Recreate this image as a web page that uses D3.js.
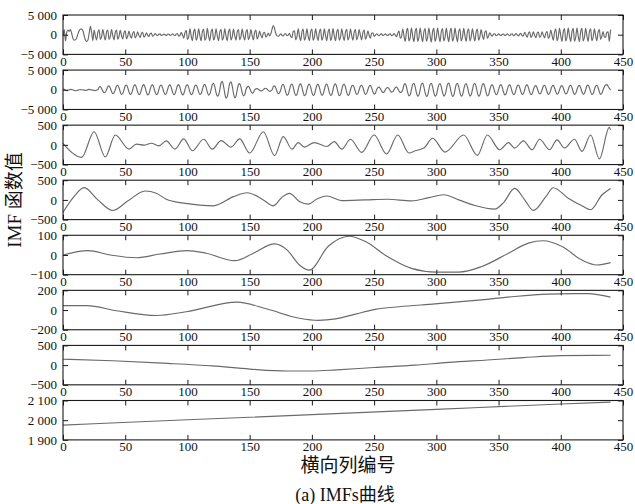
<!DOCTYPE html>
<html><head><meta charset="utf-8">
<script src="https://cdn.jsdelivr.net/npm/d3@7"></script>
<style>body{margin:0;background:#fff}svg{display:block}</style>
</head><body>
<svg id="chart" width="635" height="504"></svg>
<script>
// ---------- data ----------
const xTickValues = [0, 50, 100, 150, 200, 250, 300, 350, 400, 450];

const imf1Values = [
-300,1300,-1600,600,1200,900,1300,300,-900,-1400,
-1300,-800,200,1000,1400,1400,1000,-200,-1300,-1700,
-1400,300,2100,600,-1500,1200,-300,-1300,600,1250,
-1200,-500,1300,-200,-1350,700,1200,-1200,-500,1300,
-250,-1300,600,1150,-1150,-450,1100,-200,-1100,500,
1000,-1000,-400,900,-200,-900,400,800,-800,-300,
700,-150,-700,300,600,-600,-250,500,-100,-500,
250,400,-350,-150,300,-50,-250,100,200,-200,
-80,180,-40,-200,100,180,-180,-80,200,-50,
-250,150,300,-350,-200,600,-100,-900,500,1100,
-1200,-600,1500,-300,-1500,750,1400,-1400,-600,1500,
-300,-1550,800,1450,-1400,-650,1600,-350,-1500,750,
1400,-1350,-600,1500,-300,-1500,700,1350,-1400,-600,
1500,-300,-1500,750,1400,-1350,-550,1400,-250,-1400,
700,1300,-1300,-500,1400,-300,-1350,650,1300,-1250,
-500,1300,-250,-1300,600,1200,-1100,-400,900,-150,
-800,400,600,-600,-200,400,-300,200,1400,2300,
1600,300,-300,-400,-100,250,-200,-300,150,250,
-250,-100,350,-500,-700,900,1000,-1300,-500,1500,
-300,-1500,700,1400,-1400,-600,1500,-300,-1500,750,
1450,-1400,-600,1500,-300,-1500,700,1400,-1400,-550,
1500,-250,-1500,750,1400,-1450,-600,1550,-300,-1500,
700,1350,-1400,-600,1500,-300,-1450,700,1350,-1350,
-500,1400,-250,-1400,650,1300,-1300,-500,1300,-200,
-1300,600,1200,-1150,-450,1000,-150,-900,400,500,
-400,-150,250,-50,-250,100,200,-200,-80,200,
-50,-200,100,220,-220,-100,300,-100,-500,400,
900,-900,-500,1400,-300,-1700,800,1600,-1600,-700,
1700,-350,-1800,850,1600,-1700,-700,1700,-300,-1800,
800,1550,-1650,-700,1700,-350,-1850,850,1600,-1700,
-650,1650,-300,-1750,800,1550,-1600,-700,1700,-350,
-1800,850,1600,-1650,-700,1650,-300,-1750,800,1500,
-1600,-650,1600,-300,-1700,800,1500,-1550,-600,1500,
-250,-1600,700,1400,-1400,-500,1300,-200,-1200,600,
1000,-900,-300,500,-100,-350,150,250,-250,-100,
200,-50,-200,100,180,-180,-60,200,-50,-250,
100,250,-250,-100,300,-50,-300,150,350,-350,
-200,600,-100,-650,350,700,-700,-250,700,-150,
-750,350,650,-700,-300,750,-150,-800,400,800,
-900,-400,1200,-200,-1400,700,1500,-1500,-600,1600,
-300,-1700,800,1550,-1600,-650,1650,-300,-1700,800,
1600,-1650,-700,1700,-350,-1750,850,1600,-1600,-650,
1600,-300,-1700,800,1500,-1500,-600,1500,-250,-1500,
700,1300,-1200,-400,800,-500,-700,600,700,-1700,
1300
];

const imf2Values = [
200,150,-100,-200,-150,0,100, 50,-50,-150,-250,-200,-100,0,
50,0,-50,-100,-150,-100,0, 100,50,-50,-100,-150,-200,-100,
0,620,780,340,-340,-780,-620,
0,780,970,430,-430,-970,-780,
0,940,1160,520,-520,-1160,-940,
0,980,1210,540,-540,-1210,-980,
0,1010,1260,560,-560,-1260,-1010,
0,1050,1310,580,-580,-1310,-1050,
0,1010,1260,560,-560,-1260,-1010,
0,980,1210,540,-540,-1210,-980,
0,1010,1260,560,-560,-1260,-1010,
0,1050,1310,580,-580,-1310,-1050,
0,1010,1260,560,-560,-1260,-1010,
0,980,1210,540,-540,-1210,-980,
0,1090,1360,600,-600,-1360,-1090,
0,1330,1650,730,-730,-1650,-1330,
0,1720,2130,950,-950,-2130,-1720,
0,1640,2040,900,-900,-2040,-1640,
0,1250,1550,690,-690,-1550,-1250,
0,700,870,390,-390,-870,-700,
0,230,290,130,-130,-290,-230,
0,310,390,170,-170,-390,-310,
0,780,970,430,-430,-970,-780,
0,1130,1410,620,-620,-1410,-1130,
0,1170,1460,650,-650,-1460,-1170,
0,1210,1500,670,-670,-1500,-1210,
0,1170,1460,650,-650,-1460,-1170,
0,1130,1410,620,-620,-1410,-1130,
0,1170,1460,650,-650,-1460,-1170,
0,1210,1500,670,-670,-1500,-1210,
0,1170,1460,650,-650,-1460,-1170,
0,940,1160,520,-520,-1160,-940,
0,940,1160,520,-520,-1160,-940,
0,900,1120,490,-490,-1120,-900,
0,550,680,300,-300,-680,-550,
0,470,580,260,-260,-580,-470,
0,550,680,300,-300,-680,-550,
0,1250,1550,690,-690,-1550,-1250,
0,1330,1650,730,-730,-1650,-1330,
0,1370,1700,750,-750,-1700,-1370,
0,1330,1650,730,-730,-1650,-1330,
0,1290,1600,710,-710,-1600,-1290,
0,1370,1700,750,-750,-1700,-1370,
0,1330,1650,730,-730,-1650,-1330,
0,1290,1600,710,-710,-1600,-1290,
0,1330,1650,730,-730,-1650,-1330,
0,1250,1550,690,-690,-1550,-1250,
0,1010,1260,560,-560,-1260,-1010,
0,1050,1310,580,-580,-1310,-1050,
0,1010,1260,560,-560,-1260,-1010,
0,980,1210,540,-540,-1210,-980,
0,1010,1260,560,-560,-1260,-1010,
0,860,1070,470,-470,-1070,-860,
0,940,1160,520,-520,-1160,-940,
0,900,1120,490,-490,-1120,-900,
0,860,1070,470,-470,-1070,-860,
0,940,1160,520,-520,-1160,-940,
0,900,1120,490,-490,-1120,-900,
0,980,1210,540,-540,-1210,-980,
0,940,1160,520,-520,-1160,-940,
0,700,1200,1300,900,400,0
];

const imf3X = [0,15,25,34,42,53,59,65,71,77,83,90,97,104,113,120,127,135,142,150,161,170,177,184,189,194,202,212,218,224,231,240,250,260,269,278,283,290,297,307,322,333,341,351,358,363,370,377,383,391,397,403,411,417,424,431,439,440];
const imf3Y = [40,-317,333,-308,250,-108,17,-8,40,-25,100,-108,150,-150,142,-108,108,-58,150,-208,333,-275,208,-108,58,-58,58,-42,83,-108,142,-192,250,-233,250,-208,-150,-83,167,-183,250,-267,250,-125,58,-83,100,-125,142,-125,125,-83,142,-167,250,-358,442,380];

const imf4X = [0,8,17,28,40,52,66,75,83,97,110,121,137,148,161,169,176,182,190,197,204,212,224,243,261,280,294,306,318,331,347,354,363,371,378,388,394,406,417,424,433,440];
const imf4Y = [-317,50,310,0,-270,-30,225,167,17,-83,-133,-150,83,183,0,-150,67,167,-42,-108,25,100,-17,0,17,-25,58,130,0,-142,-233,-67,292,0,-267,83,308,42,-150,-250,125,292];

const imf5X = [0,20,38,59,78,100,115,138,153,170,180,190,198,213,230,243,261,280,300,318,336,358,374,386,401,417,429,440];
const imf5Y = [0,22,0,-14,5,22,9,-29,9,56,26,-51,-77,43,95,68,-9,-68,-87,-87,-60,9,60,72,43,-26,-51,-39];

const imf6X = [0,19,43,75,99,140,164,190,205,219,235,251,270,299,336,363,390,410,422,440];
const imf6Y = [45,45,-7,-55,-17,80,10,-83,-105,-90,-41,7,34,62,103,138,162,167,166,131];

const imf7X = [0,40,80,120,150,180,200,220,250,283,310,341,370,400,440];
const imf7Y = [150,110,50,-20,-100,-150,-150,-120,-60,0,70,130,190,240,250];

const imf8X = [0,100,200,300,400,440];
const imf8Y = [1975,2002,2028,2055,2082,2092];

const yTickValues = [
  [-5000, 0, 5000], [-5000, 0, 5000], [-500, 0, 500], [-500, 0, 500],
  [-100, 0, 100], [-200, 0, 200], [-500, 0, 500], [1900, 2000, 2100]
];
const yTickLabels = [
  ["−5 000", "0", "5 000"], ["−5 000", "0", "5 000"], ["−500", "0", "500"], ["−500", "0", "500"],
  ["−100", "0", "100"], ["−200", "0", "200"], ["−500", "0", "500"], ["1 900", "2 000", "2 100"]
];
const yAxisTitle = "IMF 函数值";
const xAxisTitle = "横向列编号";
const caption = "(a) IMFs曲线";

// ---------- build ----------
const seriesList = [
  imf1Values.map((v, i) => [i, v]),
  imf2Values.map((v, i) => [i, v]),
  imf3X.map((x, i) => [x, imf3Y[i]]),
  imf4X.map((x, i) => [x, imf4Y[i]]),
  imf5X.map((x, i) => [x, imf5Y[i]]),
  imf6X.map((x, i) => [x, imf6Y[i]]),
  imf7X.map((x, i) => [x, imf7Y[i]]),
  imf8X.map((x, i) => [x, imf8Y[i]])
];

const svg = d3.select("#chart");
const serif = "'Liberation Serif','Times New Roman','Noto Sans CJK SC',serif";
const left = 63, right = 623, top0 = 15, step = 55.07, ph = 39.4;
const x = d3.scaleLinear().domain([0, 450]).range([left, right]);
const axisColor = "#1a1a1a";

svg.append("rect").attr("width", 635).attr("height", 504).attr("fill", "#fff");

seriesList.forEach((data, p) => {
  const top = top0 + p * step, bottom = top + ph;
  const tv = yTickValues[p];
  const y = d3.scaleLinear().domain([tv[0], tv[2]]).range([bottom, top]);
  const g = svg.append("g");

  // curve
  g.append("path")
    .datum(data)
    .attr("fill", "none")
    .attr("stroke", "#6a6a6a")
    .attr("stroke-width", 1.15)
    .attr("stroke-linejoin", "round")
    .attr("d", d3.line().x(d => x(d[0])).y(d => y(d[1])).curve(d3.curveMonotoneX));

  const fmt = (d) => yTickLabels[p][tv.indexOf(d)];

  const bAx = g.append("g").attr("transform", `translate(0,${bottom})`)
    .call(d3.axisBottom(x).tickValues(xTickValues).tickSizeInner(-5).tickSizeOuter(0).tickPadding(2).tickFormat(d3.format("d")));
  const tAx = g.append("g").attr("transform", `translate(0,${top})`)
    .call(d3.axisTop(x).tickValues(xTickValues).tickSizeInner(-5).tickSizeOuter(0).tickFormat(""));
  const lAx = g.append("g").attr("transform", `translate(${left},0)`)
    .call(d3.axisLeft(y).tickValues(tv).tickSizeInner(-5).tickSizeOuter(0).tickPadding(6).tickFormat(fmt));
  const rAx = g.append("g").attr("transform", `translate(${right},0)`)
    .call(d3.axisRight(y).tickValues(tv).tickSizeInner(-5).tickSizeOuter(0).tickFormat(""));

  [bAx, tAx, lAx, rAx].forEach(a => {
    a.select(".domain").remove();
    a.selectAll("line").attr("stroke", axisColor).attr("stroke-width", 1);
    a.selectAll("text").attr("fill", "#111").style("font-family", serif).style("font-size", "13px");
  });

  g.append("rect").attr("x", left).attr("y", top).attr("width", right - left).attr("height", ph)
    .attr("fill", "none").attr("stroke", axisColor).attr("stroke-width", 1.1);
});

svg.append("text")
  .attr("transform", "translate(14,200) rotate(-90)")
  .attr("text-anchor", "middle").attr("dominant-baseline", "central")
  .style("font-family", serif).style("font-size", "19px").attr("fill", "#111")
  .text(yAxisTitle);

svg.append("text")
  .attr("x", 348).attr("y", 465)
  .attr("text-anchor", "middle").attr("dominant-baseline", "central")
  .style("font-family", serif).style("font-size", "19px").attr("fill", "#111")
  .text(xAxisTitle);

svg.append("text")
  .attr("x", 345).attr("y", 495)
  .attr("text-anchor", "middle").attr("dominant-baseline", "central")
  .style("font-family", serif).style("font-size", "18px").attr("fill", "#111")
  .text(caption);
</script>
</body></html>
